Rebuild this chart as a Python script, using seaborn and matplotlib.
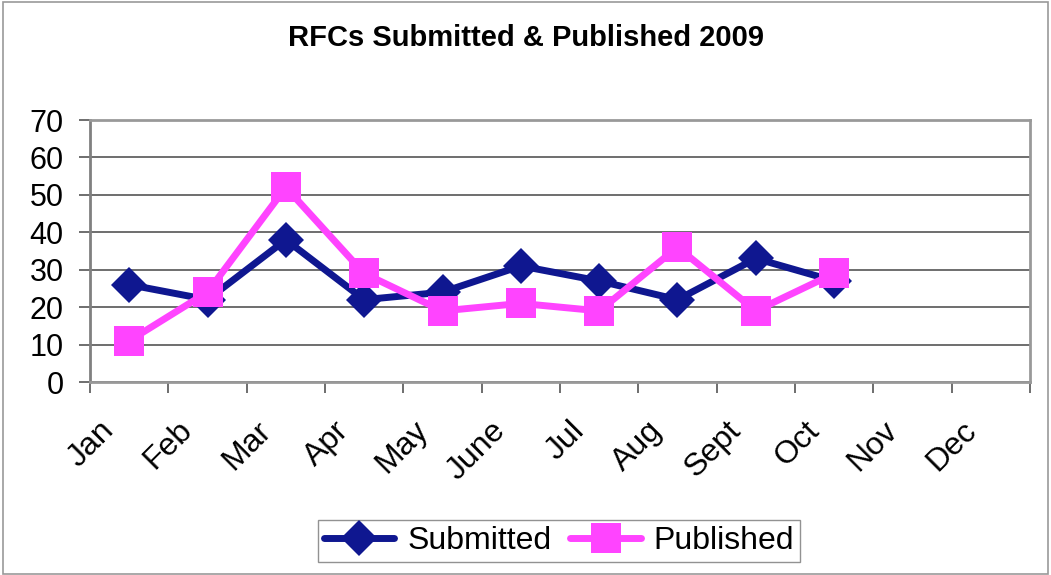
import numpy as np
import pandas as pd
import matplotlib
matplotlib.use('Agg')
import matplotlib.pyplot as plt
import matplotlib.transforms as mtransforms
from matplotlib.patches import Rectangle
import seaborn as sns

# Data
months = ['Jan', 'Feb', 'Mar', 'Apr', 'May', 'June', 'Jul', 'Aug', 'Sept', 'Oct', 'Nov', 'Dec']
submitted = [26, 22, 38, 22, 24, 31, 27, 22, 33, 27]
published = [11, 24, 52, 29, 19, 21, 19, 36, 19, 29]
yticks = [0, 10, 20, 30, 40, 50, 60, 70]

navy = '#0F1790'
magenta = '#FF44FF'

sns.set_theme(style='white')
plt.rcParams['font.family'] = ['Liberation Sans', 'DejaVu Sans']
plt.rcParams['text.color'] = 'black'
plt.rcParams['xtick.labelcolor'] = 'black'
plt.rcParams['ytick.labelcolor'] = 'black'

df = pd.DataFrame({
    'idx': list(range(len(submitted))) * 2,
    'value': submitted + published,
    'series': ['Submitted'] * len(submitted) + ['Published'] * len(published),
})

fig = plt.figure(figsize=(10.51, 5.75), dpi=100)
ax = fig.add_axes([90 / 1051, 1 - 382 / 575, 940 / 1051, 262 / 575])

sns.lineplot(data=df, x='idx', y='value', hue='series', style='series',
             palette={'Submitted': navy, 'Published': magenta},
             markers={'Submitted': 'D', 'Published': 's'},
             dashes=False, linewidth=5, ax=ax, legend=False)
for line, ms in zip(ax.get_lines(), [18, 21]):
    line.set_markersize(ms)
    line.set_markeredgewidth(0)
ax.get_lines()[0].set_zorder(3)
ax.get_lines()[1].set_zorder(4)

ax.set_xlim(-0.5, len(months) - 0.5)
ax.set_ylim(0, 70)
ax.set_yticks(yticks)
ax.set_xlabel('')
ax.set_ylabel('')
ax.yaxis.grid(True, color='#555555', linewidth=1.2)
ax.set_axisbelow(True)

ax.set_xticks(np.arange(len(months)))
ax.set_xticklabels(months, rotation=45, ha='right', va='top', rotation_mode='anchor', fontsize=23)
ax.set_xticks(np.arange(len(months) + 1) - 0.5, minor=True)
ax.tick_params(axis='x', which='major', length=0, pad=24)
ax.tick_params(axis='x', which='minor', length=8, width=1.2, color='#555555', bottom=True)
ax.tick_params(axis='y', length=8, width=1.2, color='#555555', left=True, labelsize=22, pad=11)
offset = mtransforms.ScaledTranslation(-30 / 100, 0, fig.dpi_scale_trans)
for lbl in ax.get_xticklabels():
    lbl.set_transform(lbl.get_transform() + offset)

for side in ['top', 'right', 'bottom', 'left']:
    ax.spines[side].set_visible(True)
    ax.spines[side].set_color('#999999')
    ax.spines[side].set_linewidth(2)
ax.spines['left'].set_color('#808080')

fig.text(0.5, 1 - 38 / 575, 'RFCs Submitted & Published 2009', ha='center', va='center',
         fontsize=21, fontweight='bold')

handles = [plt.Line2D([], [], color=navy, lw=5, marker='D', ms=18, mew=0),
           plt.Line2D([], [], color=magenta, lw=5, marker='s', ms=21, mew=0)]
leg = fig.legend(handles, ['Submitted', 'Published'], loc='center',
                 bbox_to_anchor=(559 / 1051, 1 - 541 / 575), ncol=2, fontsize=23,
                 frameon=True, fancybox=False, edgecolor='#777777', handlelength=2.2,
                 columnspacing=0.6, handletextpad=0.4, borderpad=0.2)
leg.get_frame().set_linewidth(1)

fig.patches.append(Rectangle((3 / 1051, 1 / 575), 1045 / 1051, 572 / 575, transform=fig.transFigure,
                             fill=False, edgecolor='#999999', linewidth=1.2))

fig.savefig('out.png', dpi=100)
